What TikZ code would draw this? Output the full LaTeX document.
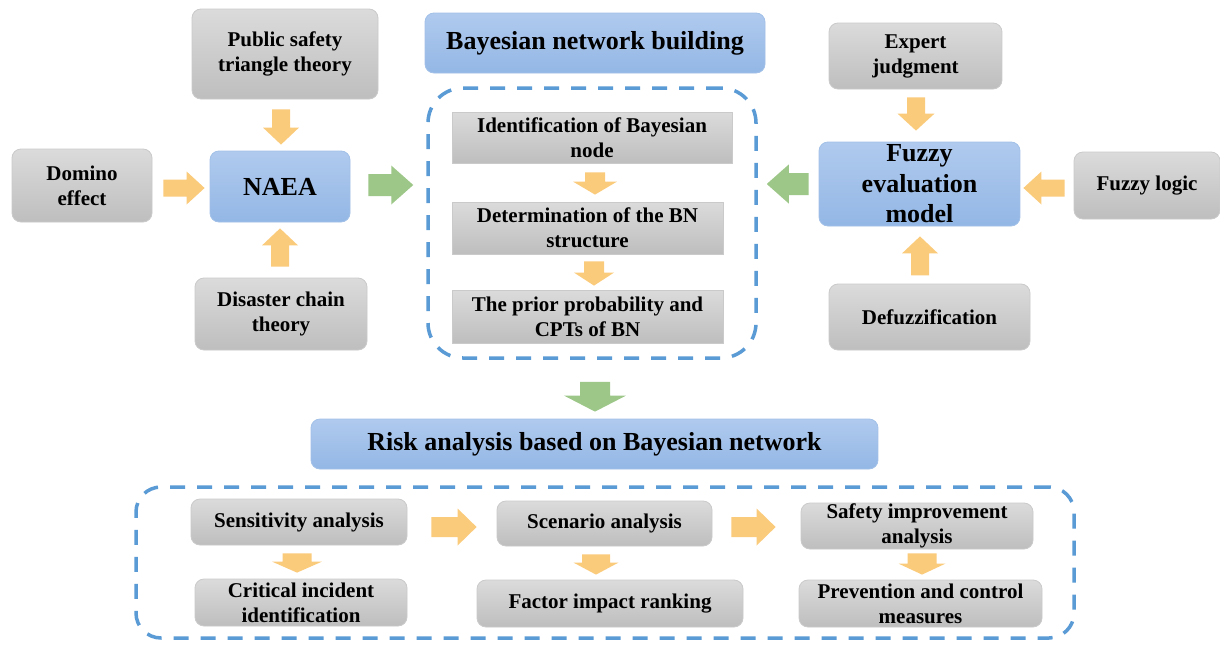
\documentclass[tikz,border=0pt]{standalone}
\usepackage{fontspec}
\setmainfont{Liberation Serif}
\usetikzlibrary{calc}

\definecolor{grayT}{HTML}{DBDBDB}
\definecolor{grayB}{HTML}{BEBEBE}
\definecolor{grayE}{HTML}{CACACA}
\definecolor{blueT}{HTML}{B0CAEE}
\definecolor{blueB}{HTML}{93B7E5}
\definecolor{blueE}{HTML}{A2C0E8}
\definecolor{frameC}{HTML}{5B9BD5}
\definecolor{yel}{HTML}{FBCB7C}
\definecolor{grn}{HTML}{9DC788}

\newcommand\txtfont{\fontsize{21}{25}\selectfont\bfseries}
\newcommand\ttlfont{\fontsize{26}{30.5}\selectfont\bfseries}

% block arrow: style, start, end, shaft half-width, head half-width, head length
\newcommand\blockarrow[6]{%
  \fill[#1] let \p1=#2, \p2=#3,
    \n1={atan2(\y2-\y1,\x2-\x1)}, \n2={veclen(\x2-\x1,\y2-\y1)} in
    [shift={(\x1,\y1)}, rotate=\n1]
    (0pt,#4pt) -- ({\n2-#6pt},#4pt) -- ({\n2-#6pt},#5pt) -- (\n2,0pt)
    -- ({\n2-#6pt},-#5pt) -- ({\n2-#6pt},-#4pt) -- (0pt,-#4pt) -- cycle;}

\tikzset{
  box/.style={rounded corners=9pt, inner sep=0pt, align=center, font=\txtfont, text=black},
  graybox/.style={box, top color=grayT, bottom color=grayB, draw=grayE, line width=0.8pt},
  flatbox/.style={graybox, sharp corners},
  bluebox/.style={box, top color=blueT, bottom color=blueB, draw=blueE, line width=0.8pt, font=\ttlfont},
  frame/.style={draw=frameC, line width=3.5pt, dash pattern=on 15pt off 12pt, inner sep=0pt},
  yarr/.style={fill=yel},
  garr/.style={fill=grn}
}

\begin{document}
\begin{tikzpicture}[x=1pt,y=-1pt]
\useasboundingbox[fill=white] (0,0) rectangle (1220,645);

% dashed group frames
\node[frame, rounded corners=35pt, minimum width=328pt, minimum height=270pt] (bnfrm) at (592,223) {};
\node[frame, rounded corners=25pt, minimum width=938pt, minimum height=151pt] (rafrm) at (605,562.5) {};

% NAEA block
\node[graybox, minimum width=186pt, minimum height=90pt] (pst) at (285,54) {Public safety\\triangle theory};
\node[graybox, minimum width=140pt, minimum height=73pt] (dom) at (82,185.5) {Domino\\effect};
\node[bluebox, minimum width=140pt, minimum height=71pt] (naea) at (280,186.5) {NAEA};
\node[graybox, minimum width=172pt, minimum height=72pt] (dct) at (281,314) {Disaster chain\\theory};

% Bayesian network building
\node[bluebox, minimum width=340pt, minimum height=60pt] (bnb) at (595,43) {Bayesian network building};
\node[flatbox, minimum width=280pt, minimum height=51pt] (idn) at (592,137.5) {Identification of Bayesian\\node};
\node[flatbox, minimum width=271pt, minimum height=52pt] (det) at (587.5,228) {Determination of the BN\\structure};
\node[flatbox, minimum width=271pt, minimum height=53pt] (pri) at (587.5,316.5) {The prior probability and\\CPTs of BN};

% fuzzy evaluation block
\node[graybox, minimum width=173pt, minimum height=66pt] (exp) at (915.5,56) {Expert\\judgment};
\node[bluebox, minimum width=201pt, minimum height=84pt] (fem) at (919.5,184) {Fuzzy\\evaluation\\model};
\node[graybox, minimum width=146pt, minimum height=67pt] (flg) at (1147,185.5) {Fuzzy logic};
\node[graybox, minimum width=201pt, minimum height=66pt] (dfz) at (929.5,317) {Defuzzification};

% risk analysis
\node[bluebox, minimum width=567pt, minimum height=50pt] (risk) at (594.5,444) {Risk analysis based on Bayesian network};
\node[graybox, minimum width=216pt, minimum height=46pt] (sen) at (299,522) {Sensitivity analysis};
\node[graybox, minimum width=212pt, minimum height=47pt] (cri) at (301,602.5) {Critical incident\\identification};
\node[graybox, minimum width=215pt, minimum height=45pt] (sce) at (604.5,523.5) {Scenario analysis};
\node[graybox, minimum width=266pt, minimum height=47pt] (fac) at (610,603.5) {Factor impact ranking};
\node[graybox, minimum width=232pt, minimum height=46pt] (saf) at (917,526) {Safety improvement\\analysis};
\node[graybox, minimum width=243pt, minimum height=47pt] (pre) at (920.5,603.5) {Prevention and control\\measures};

% arrows into NAEA
\blockarrow{yarr}{($(naea.north |- pst.south)+(1,10)$)}{($(naea.north)+(1,-6)$)}{9}{18}{17}
\blockarrow{yarr}{($(dom.east |- naea.east)+(11,1.5)$)}{($(naea.west)+(-5,1.5)$)}{8.5}{16.5}{18}
\blockarrow{yarr}{($(naea.south |- dct.north)+(0,-11)$)}{($(naea.south)+(0,6)$)}{9}{18}{17}

% arrows into the Bayesian network frame
\blockarrow{garr}{($(naea.east)+(18,-1.5)$)}{($(bnfrm.west |- naea.east)+(-13,-1.5)$)}{11}{19.5}{22}
\blockarrow{garr}{($(fem.west)+(-10,0)$)}{($(bnfrm.east |- fem.west)+(9,0)$)}{11}{19.5}{22}

% steps inside the frame
\blockarrow{yarr}{($(idn.south)+(3,9)$)}{($(idn.south |- det.north)+(3,-7)$)}{10}{22}{13}
\blockarrow{yarr}{($(det.south)+(6.5,7)$)}{($(det.south |- pri.north)+(6.5,-4)$)}{10}{20}{13}

% arrows into the fuzzy evaluation model
\blockarrow{yarr}{($(exp.south)+(0.5,8)$)}{($(exp.south |- fem.north)+(0.5,-11)$)}{9}{18.5}{17}
\blockarrow{yarr}{($(flg.west)+(-9,2.5)$)}{($(fem.east |- flg.west)+(3,2.5)$)}{8.5}{16.5}{18}
\blockarrow{yarr}{($(fem.south)+(0.5,49)$)}{($(fem.south)+(0.5,10)$)}{9}{18}{17}

% frame to risk analysis
\blockarrow{garr}{($(bnfrm.south)+(3,22)$)}{($(bnfrm.south |- risk.north)+(3,-7)$)}{15}{31}{16}

% risk analysis steps
\blockarrow{yarr}{($(sen.east)+(24,5)$)}{($(sce.west |- sen.east)+(-20,5)$)}{10}{18.5}{19}
\blockarrow{yarr}{($(sce.east)+(19,3.5)$)}{($(saf.west |- sce.east)+(-25,3.5)$)}{10}{18.5}{19}
\blockarrow{yarr}{($(sen.south)+(-2,8)$)}{($(sen.south |- cri.north)+(-2,-6)$)}{14.5}{25}{11}
\blockarrow{yarr}{($(sce.south)+(-8.5,8)$)}{($(sce.south |- fac.north)+(-8.5,-5)$)}{14}{22.5}{12}
\blockarrow{yarr}{($(saf.south)+(5,4)$)}{($(saf.south |- pre.north)+(5,-5)$)}{14.5}{23.5}{11}
\end{tikzpicture}
\end{document}
